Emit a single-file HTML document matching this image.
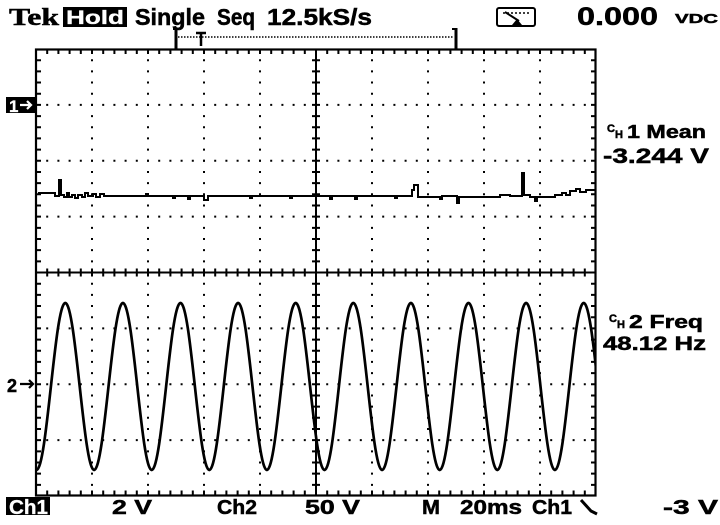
<!DOCTYPE html>
<html>
<head>
<meta charset="utf-8">
<style>
html,body{margin:0;padding:0;background:#fff;}
svg{display:block;}
text{font-family:"Liberation Sans","DejaVu Sans",sans-serif;font-weight:bold;fill:#000;stroke:#000;stroke-width:0.5;}
text.w{fill:#fff;stroke:#fff;stroke-width:0.3;}
</style>
</head>
<body>
<svg width="720" height="525" viewBox="0 0 720 525" xmlns="http://www.w3.org/2000/svg">
<defs>
<clipPath id="gc"><rect x="36" y="49" width="560" height="447"/></clipPath>
</defs>

<!-- top row -->
<text x="9" y="25" font-size="24" textLength="50" lengthAdjust="spacingAndGlyphs" style="font-family:'Liberation Serif',serif">Tek</text>
<rect x="63" y="7" width="64" height="20" fill="#000"/>
<text class="w" x="66" y="24" font-size="19" textLength="58" lengthAdjust="spacingAndGlyphs">Hold</text>
<text x="135" y="25" font-size="23" textLength="70" lengthAdjust="spacingAndGlyphs">Single</text>
<text x="217" y="25" font-size="23" textLength="38" lengthAdjust="spacingAndGlyphs">Seq</text>
<text x="267" y="25" font-size="23" textLength="105" lengthAdjust="spacingAndGlyphs">12.5kS/s</text>

<!-- meter icon -->
<rect x="497" y="8" width="38" height="18" rx="2" fill="none" stroke="#000" stroke-width="2"/>
<path d="M503,13 L530,13" stroke="#000" stroke-width="1.5" stroke-dasharray="2 2" fill="none"/>
<path d="M505,12 L519,21" stroke="#000" stroke-width="2" fill="none"/>
<path d="M512,25 L517,19 L522,25 Z" fill="#000"/>

<text x="577" y="25" font-size="25" textLength="81" lengthAdjust="spacingAndGlyphs">0.000</text>
<text x="675" y="23" font-size="13" textLength="43" lengthAdjust="spacingAndGlyphs">VDC</text>

<!-- trigger bracket -->
<path d="M176,28 V49" stroke="#000" stroke-width="3"/>
<path d="M173,29 H179" stroke="#000" stroke-width="2"/>
<path d="M178,37 H453" stroke="#000" stroke-width="1.5" stroke-dasharray="1.5 1.5"/>
<path d="M196,33 H206 M201,33 V46" stroke="#000" stroke-width="2.5"/>
<path d="M456,28 V49" stroke="#000" stroke-width="3"/>
<path d="M452,29 H457" stroke="#000" stroke-width="2"/>

<!-- grid dotted lines -->
<g stroke="#000" stroke-width="2" stroke-dasharray="2 9.175">
<line x1="92" y1="59.2" x2="92" y2="496"/>
<line x1="148" y1="59.2" x2="148" y2="496"/>
<line x1="204" y1="59.2" x2="204" y2="496"/>
<line x1="260" y1="59.2" x2="260" y2="496"/>
<line x1="372" y1="59.2" x2="372" y2="496"/>
<line x1="428" y1="59.2" x2="428" y2="496"/>
<line x1="484" y1="59.2" x2="484" y2="496"/>
<line x1="540" y1="59.2" x2="540" y2="496"/>
</g>
<g stroke="#000" stroke-width="2" stroke-dasharray="2 9.2">
<line x1="46.2" y1="104.9" x2="596" y2="104.9"/>
<line x1="46.2" y1="160.75" x2="596" y2="160.75"/>
<line x1="46.2" y1="216.6" x2="596" y2="216.6"/>
<line x1="46.2" y1="328.4" x2="596" y2="328.4"/>
<line x1="46.2" y1="384.25" x2="596" y2="384.25"/>
<line x1="46.2" y1="440.1" x2="596" y2="440.1"/>
</g>

<!-- border ticks -->
<g stroke="#000" stroke-width="5" stroke-dasharray="2 9.2">
<line x1="46.2" y1="51.5" x2="596" y2="51.5"/>
<line x1="46.2" y1="493" x2="596" y2="493"/>
</g>
<g stroke="#000" stroke-width="5" stroke-dasharray="2 9.175">
<line x1="38.5" y1="59.2" x2="38.5" y2="496"/>
<line x1="593.5" y1="59.2" x2="593.5" y2="496"/>
</g>
<!-- center lines with ticks -->
<line x1="316" y1="49" x2="316" y2="496" stroke="#000" stroke-width="2"/>
<line x1="36" y1="272.5" x2="596" y2="272.5" stroke="#000" stroke-width="2"/>
<line x1="316" y1="59.2" x2="316" y2="496" stroke="#000" stroke-width="8" stroke-dasharray="2 9.175"/>
<line x1="46.2" y1="272.5" x2="596" y2="272.5" stroke="#000" stroke-width="8" stroke-dasharray="2 9.2"/>

<!-- border -->
<rect x="36" y="49.5" width="559.5" height="446" fill="none" stroke="#000" stroke-width="2.2"/>

<!-- traces -->
<g clip-path="url(#gc)" fill="none" stroke="#000">
<path stroke-width="2" d="M38,193 H55 V196 H59 V180 H61 V195 H64 V197 H67 V193 H69 V197 H72 V195 H75 V198 H78 V195 H82 V197 H85 V193 H88 V196 H93 V194 H96 V197 H100 V194 H104 V196 H146 V194 H148 V196 H173 V198 H175 V196 H188 V199 H190 V196 H204 V200 H208 V196 H250 V198 H252 V196 H290 V198 H292 V196 H330 V199 H332 V196 H355 V199 H357 V196 H395 V198 H397 V196 H412 V190 H414 V185 H418 V197 H440 V199 H442 V196 H457 V203 H459 V197 H500 V195 H510 V196 H522 V173 H524 V195 H530 V197 H535 V201 H537 V197 H555 V195 H562 V193 H566 V195 H570 V191 H576 V189 H580 V192 H586 V190 H596"/>
<path stroke-width="2.7" d="M36.5,470 C47,470 54.8,303 65.3,303 S83.6,470 94.1,470 S112.4,303 122.9,303 S141.2,470 151.7,470 S170,303 180.5,303 S198.8,470 209.3,470 S227.6,303 238.1,303 S256.4,470 266.9,470 S285.2,303 295.7,303 S314,470 324.5,470 S342.8,303 353.3,303 S371.6,470 382.1,470 S400.4,303 410.9,303 S429.2,470 439.7,470 S458,303 468.5,303 S486.8,470 497.3,470 S515.6,303 526.1,303 S544.4,470 554.9,470 S573.2,303 583.7,303 S602,470 612.5,470"/>
</g>

<!-- channel markers -->
<rect x="6" y="97" width="29" height="16" fill="#000"/>
<text class="w" x="9" y="112" font-size="17">1</text>
<path d="M20,105 H31 M27,101 L31,105 L27,109" stroke="#fff" stroke-width="2.2" fill="none"/>
<text x="7" y="392" font-size="18">2</text>
<path d="M20,384 H33 M29,380 L33,384 L29,388" stroke="#000" stroke-width="2.2" fill="none"/>

<!-- right readouts -->
<text x="607" y="132" font-size="11">C</text>
<text x="615" y="138" font-size="11">H</text>
<text x="627" y="138" font-size="18" textLength="79" lengthAdjust="spacingAndGlyphs">1 Mean</text>
<text x="603" y="163" font-size="21" textLength="106" lengthAdjust="spacingAndGlyphs">-3.244 V</text>
<text x="609" y="322" font-size="11">C</text>
<text x="617" y="328" font-size="11">H</text>
<text x="629" y="328" font-size="18" textLength="74" lengthAdjust="spacingAndGlyphs">2 Freq</text>
<text x="603" y="350" font-size="19" textLength="103" lengthAdjust="spacingAndGlyphs">48.12 Hz</text>

<!-- bottom row -->
<rect x="6" y="497" width="44" height="18" fill="#000"/>
<text class="w" x="9" y="514" font-size="20" textLength="39" lengthAdjust="spacingAndGlyphs">Ch1</text>
<text x="112" y="514" font-size="20" textLength="40" lengthAdjust="spacingAndGlyphs">2 V</text>
<text x="217" y="514" font-size="20" textLength="40" lengthAdjust="spacingAndGlyphs">Ch2</text>
<text x="305" y="514" font-size="20" textLength="55" lengthAdjust="spacingAndGlyphs">50 V</text>
<text x="422" y="514" font-size="20" textLength="18" lengthAdjust="spacingAndGlyphs">M</text>
<text x="460" y="514" font-size="20" textLength="62" lengthAdjust="spacingAndGlyphs">20ms</text>
<text x="532" y="514" font-size="20" textLength="40" lengthAdjust="spacingAndGlyphs">Ch1</text>
<path d="M581,500 L591,511 L597,514" stroke="#000" stroke-width="3" fill="none"/>
<text x="663" y="514" font-size="20" textLength="55" lengthAdjust="spacingAndGlyphs">-3 V</text>
</svg>
</body>
</html>
